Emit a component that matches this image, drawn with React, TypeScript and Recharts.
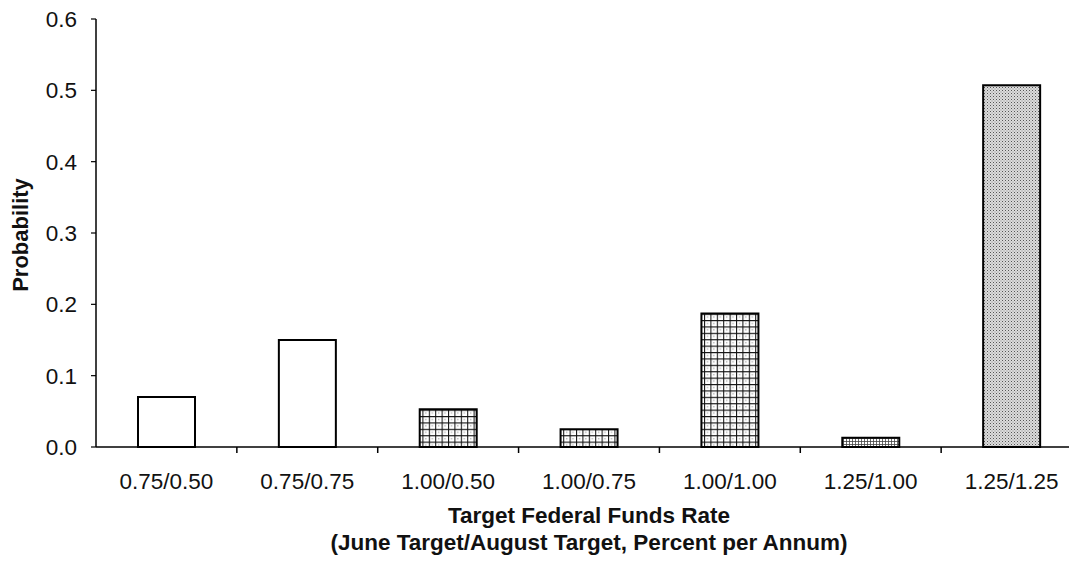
import React from 'react'
import { BarChart, Bar, XAxis, YAxis, Cell } from 'recharts'

// target pairs (June / August) and the market-implied probability of each
const categories = ['0.75/0.50', '0.75/0.75', '1.00/0.50', '1.00/0.75', '1.00/1.00', '1.25/1.00', '1.25/1.25']
const probabilities = [0.07, 0.15, 0.053, 0.025, 0.187, 0.013, 0.507]
const yTicks = [0, 0.1, 0.2, 0.3, 0.4, 0.5, 0.6]

const data = categories.map((rate, i) => ({ rate, probability: probabilities[i] }))

// fill per bar: plain, cross-hatched, fine dotted, light stipple
const fills = ['#ffffff', '#ffffff', 'url(#hatch)', 'url(#hatch)', 'url(#hatch)', 'url(#fineDots)', 'url(#stipple)']

const CHART_W = 1090
const CHART_H = 563
const MARGIN = { top: 19, right: 8, left: 0, bottom: 0 }
const Y_AXIS_W = 96
const BAND = (CHART_W - MARGIN.right - MARGIN.left - Y_AXIS_W) / categories.length
const FONT = '"Liberation Sans", Arial, Helvetica, sans-serif'

function CategoryTick({ x, y, payload, index }: any) {
  const last = index === categories.length - 1
  return (
    <g>
      {!last && (
        <line x1={x + BAND / 2} x2={x + BAND / 2} y1={y} y2={y + 6} stroke="#000" strokeWidth={1.5} />
      )}
      <text x={x} y={y + 42} textAnchor="middle" fontSize={22.5} fontFamily={FONT} fill="#111">
        {payload.value}
      </text>
    </g>
  )
}

function XTitle({ viewBox }: any) {
  const cx = viewBox.x + viewBox.width / 2
  return (
    <text textAnchor="middle" fontSize={22.5} fontWeight={700} fontFamily={FONT} fill="#111">
      <tspan x={cx} y={viewBox.y + 76}>Target Federal Funds Rate</tspan>
      <tspan x={cx} y={viewBox.y + 103}>(June Target/August Target, Percent per Annum)</tspan>
    </text>
  )
}

function YTitle({ viewBox }: any) {
  const cy = viewBox.y + viewBox.height / 2 + 2
  return (
    <text
      x={20}
      y={cy}
      transform={`rotate(-90, 20, ${cy})`}
      textAnchor="middle"
      dominantBaseline="central"
      fontSize={22}
      fontWeight={700}
      fontFamily={FONT}
      fill="#111"
    >
      Probability
    </text>
  )
}

export default function App() {
  return (
    <div
      style={{
        position: 'absolute',
        left: 0,
        top: 0,
        width: 1069,
        height: CHART_H,
        overflow: 'hidden',
        background: '#fff',
      }}
    >
      <BarChart width={CHART_W} height={CHART_H} data={data} margin={MARGIN}>
        <defs>
          <pattern id="hatch" width={6.4} height={6.4} patternUnits="userSpaceOnUse">
            <rect width={6.4} height={6.4} fill="#fff" />
            <path d="M0 0.5 H6.4 M0.5 0 V6.4" stroke="#111" strokeWidth={1.1} />
            <rect x={3} y={3} width={1} height={1} fill="#777" />
          </pattern>
          <pattern id="fineDots" width={3} height={3} patternUnits="userSpaceOnUse">
            <rect width={3} height={3} fill="#fff" />
            <path d="M0 0.5 H3 M0.5 0 V3" stroke="#444" strokeWidth={0.8} />
          </pattern>
          <pattern id="stipple" width={3} height={3} patternUnits="userSpaceOnUse">
            <rect width={3} height={3} fill="#dcdcdc" />
            <rect x={0} y={0} width={1} height={1} fill="#555" />
            <rect x={1.5} y={1.5} width={1} height={1} fill="#888" />
          </pattern>
        </defs>
        <XAxis
          dataKey="rate"
          height={116}
          interval={0}
          tickLine={false}
          tickSize={0}
          tickMargin={0}
          tick={<CategoryTick />}
          axisLine={{ stroke: '#000', strokeWidth: 1.5 }}
          label={{ content: <XTitle /> } as any}
        />
        <YAxis
          width={Y_AXIS_W}
          domain={[0, 0.6]}
          ticks={yTicks}
          interval={0}
          tickFormatter={(v: number) => v.toFixed(1)}
          tickSize={5}
          tickMargin={14}
          tick={{ fontSize: 22.5, fontFamily: FONT, fill: '#111' }}
          tickLine={{ stroke: '#000', strokeWidth: 1.2 }}
          axisLine={{ stroke: '#000', strokeWidth: 1.5 }}
          label={{ content: <YTitle /> } as any}
        />
        <Bar dataKey="probability" barSize={57} isAnimationActive={false}>
          {data.map((d, i) => (
            <Cell key={d.rate} fill={fills[i]} stroke="#000" strokeWidth={2} />
          ))}
        </Bar>
      </BarChart>
    </div>
  )
}
